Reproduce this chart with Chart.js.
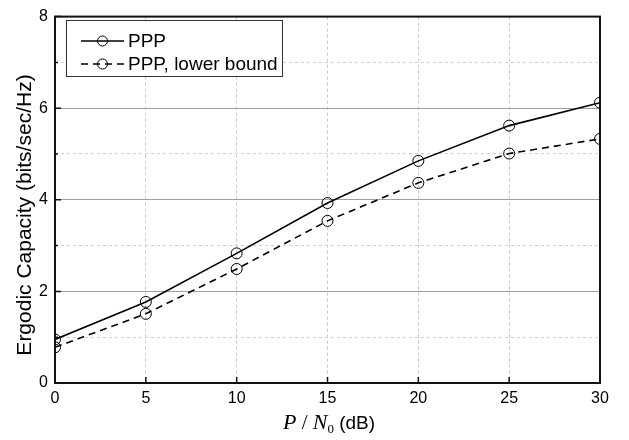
<!DOCTYPE html>
<html>
<head>
<meta charset="utf-8">
<script src="https://cdn.jsdelivr.net/npm/chart.js@4"></script>
<style>
  html, body { margin: 0; padding: 0; background: #fff; }
  #wrap { width: 629px; height: 440px; }
</style>
</head>
<body>
<div id="wrap"><canvas id="capChart" width="629" height="440"></canvas></div>
<script>
// P/N0 in dB
const snrDb = [0, 5, 10, 15, 20, 25, 30];
// ergodic capacity (bits/sec/Hz)
const pppCap = [0.95, 1.77, 2.83, 3.93, 4.85, 5.62, 6.12];
const pppLower = [0.78, 1.51, 2.49, 3.54, 4.37, 5.01, 5.33];
const seriesNames = ['PPP', 'PPP, lower bound'];
const xTicks = [0, 5, 10, 15, 20, 25, 30];
const yTicks = [0, 2, 4, 6, 8];

const toPoints = (xs, ys) => xs.map((x, i) => ({ x: x, y: ys[i] }));

// frame, inward ticks, legend box and axis titles
const extras = {
  id: 'extras',
  afterDraw(chart) {
    const { ctx, chartArea: a, scales } = chart;
    const xs = scales.x, ys = scales.y;
    ctx.save();

    // frame
    ctx.strokeStyle = '#111';
    ctx.lineWidth = 2;
    ctx.setLineDash([]);
    ctx.strokeRect(a.left, a.top, a.right - a.left, a.bottom - a.top);

    // inward ticks
    ctx.lineWidth = 1.5;
    ctx.beginPath();
    xTicks.forEach(v => {
      const px = xs.getPixelForValue(v);
      ctx.moveTo(px, a.bottom); ctx.lineTo(px, a.bottom - 6);
    });
    for (let v = 0; v <= 8; v++) {
      const py = ys.getPixelForValue(v);
      const len = v % 2 === 0 ? 6 : 3;
      ctx.moveTo(a.left, py); ctx.lineTo(a.left + len, py);
    }
    ctx.stroke();

    // legend
    const lx = 66, ly = 20, lw = 216, lh = 56;
    ctx.fillStyle = '#fff';
    ctx.fillRect(lx, ly, lw, lh);
    ctx.strokeStyle = '#333';
    ctx.lineWidth = 1;
    ctx.strokeRect(lx + 0.5, ly + 0.5, lw, lh);
    chart.data.datasets.forEach((ds, i) => {
      const cy = ly + 21 + i * 23;
      ctx.strokeStyle = '#000';
      ctx.lineWidth = 1.5;
      ctx.setLineDash(ds.borderDash || []);
      ctx.beginPath();
      ctx.moveTo(81, cy); ctx.lineTo(124, cy);
      ctx.stroke();
      ctx.setLineDash([]);
      ctx.lineWidth = 1;
      ctx.beginPath();
      ctx.arc(102.5, cy, 5, 0, Math.PI * 2);
      ctx.stroke();
      ctx.fillStyle = '#000';
      ctx.font = '19px "Liberation Sans", Arial, sans-serif';
      ctx.textBaseline = 'middle';
      ctx.textAlign = 'left';
      ctx.fillText(ds.label, 128, cy + 1);
    });

    // y title
    ctx.save();
    ctx.translate(25, 215);
    ctx.rotate(-Math.PI / 2);
    ctx.font = '21px "Liberation Sans", Arial, sans-serif';
    ctx.textAlign = 'center';
    ctx.textBaseline = 'middle';
    ctx.fillStyle = '#000';
    ctx.fillText('Ergodic Capacity (bits/sec/Hz)', 0, 0);
    ctx.restore();

    // x title: P / N0 (dB)
    const parts = [
      { t: 'P', f: 'italic 22px "Liberation Serif", "Times New Roman", serif', dy: 0 },
      { t: ' / ', f: '21px "Liberation Serif", "Times New Roman", serif', dy: 0 },
      { t: 'N', f: 'italic 22px "Liberation Serif", "Times New Roman", serif', dy: 0 },
      { t: '0', f: '13px "Liberation Serif", "Times New Roman", serif', dy: 4 },
      { t: ' (dB)', f: '19px "Liberation Sans", Arial, sans-serif', dy: 0 }
    ];
    let total = 0;
    parts.forEach(p => { ctx.font = p.f; p.w = ctx.measureText(p.t).width; total += p.w; });
    let x = 329 - total / 2;
    ctx.textAlign = 'left';
    ctx.textBaseline = 'alphabetic';
    ctx.fillStyle = '#000';
    parts.forEach(p => {
      ctx.font = p.f;
      ctx.fillText(p.t, x, 429 + p.dy);
      x += p.w;
    });

    ctx.restore();
  }
};

const ctx = document.getElementById('capChart').getContext('2d');
const capChart = new Chart(ctx, {
  type: 'line',
  data: {
    datasets: [
      {
        label: seriesNames[0],
        data: toPoints(snrDb, pppCap),
        borderColor: '#000',
        borderWidth: 1.6,
        pointRadius: 5.5,
        pointBorderWidth: 1,
        pointBackgroundColor: 'rgba(0,0,0,0)',
        pointBorderColor: '#000',
        tension: 0,
        clip: 0
      },
      {
        label: seriesNames[1],
        data: toPoints(snrDb, pppLower),
        borderColor: '#000',
        borderWidth: 1.6,
        borderDash: [7, 5],
        pointRadius: 5.5,
        pointBorderWidth: 1,
        pointBackgroundColor: 'rgba(0,0,0,0)',
        pointBorderColor: '#000',
        tension: 0,
        clip: 0
      }
    ]
  },
  options: {
    responsive: false,
    animation: false,
    layout: { padding: { top: 8, right: 29, left: 0, bottom: 0 } },
    plugins: {
      legend: { display: false },
      tooltip: { enabled: false }
    },
    scales: {
      x: {
        type: 'linear',
        min: 0,
        max: 30,
        afterBuildTicks: s => { s.ticks = xTicks.map(v => ({ value: v })); },
        afterFit: s => { s.height = 57; },
        grid: {
          color: '#c8c8c8',
          lineWidth: 1,
          drawTicks: false
        },
        border: { display: false, dash: [3, 3] },
        ticks: {
          color: '#000',
          padding: 6,
          font: { family: '"Liberation Sans", Arial, sans-serif', size: 16 }
        }
      },
      y: {
        type: 'linear',
        min: 0,
        max: 8,
        afterBuildTicks: s => {
          s.ticks = [0, 1, 2, 3, 4, 5, 6, 7, 8].map(v => ({ value: v }));
        },
        afterFit: s => { s.width = 55; },
        grid: {
          color: c => (c.tick && c.tick.value % 2 === 0) ? '#a0a0a0' : '#d0d0d0',
          lineWidth: 1,
          drawTicks: false
        },
        border: {
          display: false,
          dash: c => (c.tick && c.tick.value % 2 === 0) ? [] : [3, 3]
        },
        ticks: {
          color: '#000',
          padding: 7,
          font: { family: '"Liberation Sans", Arial, sans-serif', size: 16 },
          callback: v => yTicks.includes(v) ? String(v) : ''
        }
      }
    }
  },
  plugins: [extras]
});
</script>
</body>
</html>
